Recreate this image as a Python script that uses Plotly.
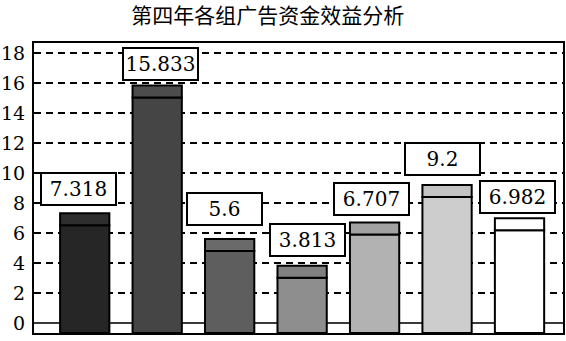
import plotly.graph_objects as go

# ---- data ----
groups = ["第1组", "第2组", "第3组", "第4组", "第5组", "第6组", "第7组"]
values = [7.318, 15.833, 5.6, 3.813, 6.707, 9.2, 6.982]
label_texts = ["7.318", "15.833", "5.6", "3.813", "6.707", "9.2", "6.982"]
y_ticks = [0, 2, 4, 6, 8, 10, 12, 14, 16, 18]
title_text = "第四年各组广告资金效益分析"

# ---- styles ----
SERIF = "DejaVu Serif"
body_colors = ["#262626", "#454545", "#5e5e5e", "#8e8e8e", "#b2b2b2", "#cdcdcd", "#ffffff"]
cap_colors = ["#2e2e2e", "#4c4c4c", "#6a6a6a", "#808080", "#a2a2a2", "#c4c4c4", "#ffffff"]
CAP = 0.8
Y_MIN, Y_MAX = -0.667, 18.667
label_dx = [-6, 3, -5, 5, -3, -5, -2]
label_dy = [7, 5, 13, 9, 6, 9, 4]

xs = list(range(len(groups)))

fig = go.Figure()
fig.add_trace(go.Bar(
    x=xs, y=[v - CAP - Y_MIN for v in values], base=[Y_MIN] * len(values),
    marker=dict(color=body_colors, line=dict(color="black", width=2)),
    width=0.68, hoverinfo="skip", showlegend=False,
))
fig.add_trace(go.Bar(
    x=xs, y=[CAP] * len(values), base=[v - CAP for v in values],
    marker=dict(color=cap_colors, line=dict(color="black", width=2)),
    width=0.68, hoverinfo="skip", showlegend=False,
))

for i, (v, t) in enumerate(zip(values, label_texts)):
    fig.add_annotation(
        x=xs[i], y=v, text=t, showarrow=False,
        xanchor="center", yanchor="bottom",
        xshift=label_dx[i], yshift=label_dy[i],
        font=dict(family=SERIF, size=20, color="black"),
        bgcolor="white", bordercolor="black", borderwidth=2, borderpad=0,
        width=73, height=30,
    )

fig.update_layout(
    width=566, height=341,
    margin=dict(l=34, r=3, t=43, b=8, autoexpand=False),
    paper_bgcolor="white", plot_bgcolor="white",
    barmode="overlay",
    title=dict(text=title_text, x=0.473, xanchor="center", y=1 - 16 / 341, yanchor="middle",
               font=dict(family="Noto Sans CJK SC", size=21, color="black")),
    xaxis=dict(range=[-0.70, 6.60], showticklabels=False, showgrid=False, zeroline=False,
               showline=True, mirror=True, linecolor="black", linewidth=2, ticks="",
               automargin=False),
    yaxis=dict(range=[Y_MIN, Y_MAX], tickvals=y_ticks, ticktext=[str(t) for t in y_ticks],
               showgrid=True, gridcolor="black", gridwidth=2, griddash="7px,5px",
               zeroline=True, zerolinecolor="#3a3a3a", zerolinewidth=2,
               showline=True, mirror=True, linecolor="black", linewidth=2, ticks="",
               ticklabelstandoff=3, automargin=False,
               tickfont=dict(family=SERIF, size=19, color="black")),
)

fig.write_html("out.html")
